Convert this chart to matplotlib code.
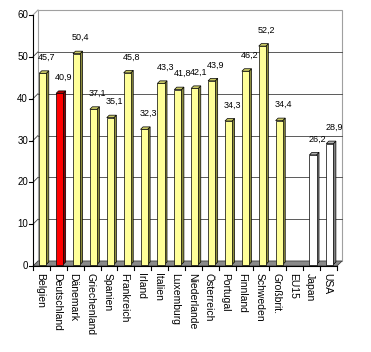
import matplotlib
matplotlib.use("Agg")
import matplotlib.pyplot as plt
from matplotlib.patches import Polygon, Rectangle
from matplotlib import font_manager

# Data
countries = ["Belgien", "Deutschland", "Dänemark", "Griechenland", "Spanien",
             "Frankreich", "Irland", "Italien", "Luxemburg", "Niederlande",
             "Österreich", "Portugal", "Finnland", "Schweden", "Großbrit.",
             "EU15", "Japan", "USA"]
values = [45.7, 40.9, 50.4, 37.1, 35.1, 45.8, 32.3, 43.3, 41.8, 42.1,
          43.9, 34.3, 46.2, 52.2, 34.4, None, 26.2, 28.9]
yticks = [0, 10, 20, 30, 40, 50, 60]

# Colours per bar group
face_col = {"eu": "#FFFF99", "de": "#FF0000", "other": "#FFFFFF"}
side_col = {"eu": "#8C8C3C", "de": "#8C0000", "other": "#808080"}
top_col = {"eu": "#C8C864", "de": "#B00000", "other": "#B0B0B0"}


def group(name):
    if name == "Deutschland":
        return "de"
    if name in ("Japan", "USA"):
        return "other"
    return "eu"


names = [f.name for f in font_manager.fontManager.ttflist]
font = "Liberation Sans" if "Liberation Sans" in names else "DejaVu Sans"
plt.rcParams["font.family"] = font

W, H = 371, 352
fig = plt.figure(figsize=(W / 100, H / 100), dpi=100)
fig.patch.set_facecolor("white")

left_px, right_px, bot_px, top_px = 33, 337, 266, 15
ax = fig.add_axes([left_px / W, (H - bot_px) / H,
                   (right_px - left_px) / W, (bot_px - top_px) / H])
n = len(countries)
x0, x1 = -0.5, n - 0.5
ax.set_xlim(x0, x1)
ax.set_ylim(0, 60)
ax.axis("off")

PX = (x1 - x0) / (right_px - left_px)   # data x per pixel
PY = 60 / (bot_px - top_px)             # data y per pixel
DX, DY = 5 * PX, 5 * PY                 # depth of the box

# back wall
ax.add_patch(Rectangle((x0 + DX, DY), x1 - x0, 60, facecolor="white",
                       edgecolor="#a0a0a0", lw=0.8, clip_on=False, zorder=1))
for t in yticks[1:-1]:
    ax.plot([x0 + DX, x1 + DX], [t + DY, t + DY], color="#404040", lw=0.6,
            clip_on=False, zorder=2)
    ax.plot([x0, x0 + DX], [t, t + DY], color="#404040", lw=0.6,
            clip_on=False, zorder=2)
ax.plot([x0, x0 + DX], [60, 60 + DY], color="#a0a0a0", lw=0.8,
        clip_on=False, zorder=2)

# floor
ax.add_patch(Polygon([(x0, 0), (x1, 0), (x1 + DX, DY), (x0 + DX, DY)],
                     closed=True, facecolor="#8a8a8a", edgecolor="#404040",
                     lw=0.6, clip_on=False, zorder=3))

# y axis
ax.plot([x0, x0], [0, 60], color="black", lw=0.8, clip_on=False, zorder=6)
for t in yticks:
    ax.plot([x0 - 4 * PX, x0], [t, t], color="black", lw=0.8,
            clip_on=False, zorder=6)
    ax.text(x0 - 5 * PX, t, str(t), ha="right", va="center", fontsize=7,
            clip_on=False)

# x axis
ax.plot([x0, x1], [0, 0], color="black", lw=0.8, clip_on=False, zorder=6)
for k in range(n + 1):
    ax.plot([x0 + k, x0 + k], [0, -4 * PY], color="black", lw=0.8,
            clip_on=False, zorder=6)

# bars
bw = 0.42
ox, oy = 1.3 * PX, 1.5 * PY
sx, sy = 2.5 * PX, 2.5 * PY
for i, (name, v) in enumerate(zip(countries, values)):
    ax.text(i - 0.1, -7 * PY, name, rotation=-90, ha="center", va="top",
            fontsize=7.5, clip_on=False)
    if v is None:
        continue
    g = group(name)
    xl = i - bw / 2 + ox
    xr = xl + bw
    yb = oy
    yt = v + oy
    ax.add_patch(Polygon([(xr, yb), (xr + sx, yb + sy), (xr + sx, yt + sy),
                          (xr, yt)], closed=True, facecolor=side_col[g],
                         edgecolor="black", lw=0.5, zorder=7))
    ax.add_patch(Polygon([(xl, yt), (xr, yt), (xr + sx, yt + sy),
                          (xl + sx, yt + sy)], closed=True,
                         facecolor=top_col[g], edgecolor="black", lw=0.5,
                         zorder=7))
    ax.add_patch(Rectangle((xl, yb), bw, v, facecolor=face_col[g],
                           edgecolor="black", lw=0.5, zorder=8))
    ax.annotate(f"{v:.1f}".replace(".", ","), (i, yt), xytext=(4, 11.5),
                textcoords="offset points", ha="center", va="center",
                fontsize=6.5, zorder=9)

fig.savefig("out.png", dpi=100, facecolor="white")
